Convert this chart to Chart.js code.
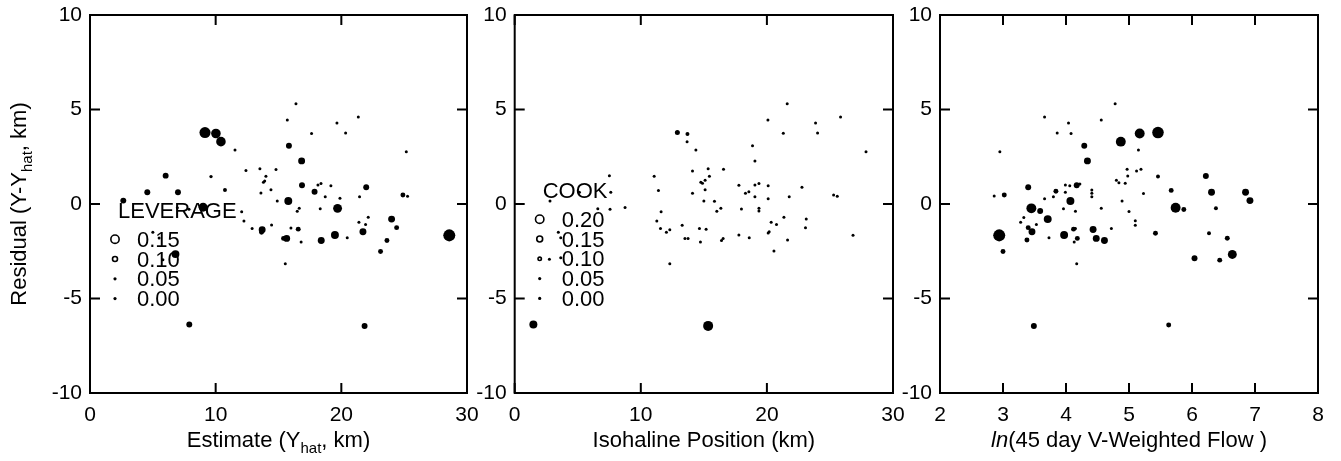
<!DOCTYPE html>
<html>
<head>
<meta charset="utf-8">
<title>Residual diagnostics</title>
<script src="https://cdn.jsdelivr.net/npm/chart.js@4.4.1/dist/chart.umd.min.js"></script>
<style>
  body { margin: 0; background: #fff; }
  #wrap { position: relative; width: 1341px; height: 461px; }
  canvas { position: absolute; top: 0; }
</style>
</head>
<body>
<div id="wrap">
  <canvas id="estChart" width="485" height="461" style="left:0px"></canvas>
  <canvas id="isoChart" width="440" height="461" style="left:470px"></canvas>
  <canvas id="flowChart" width="446" height="461" style="left:895px"></canvas>
</div>
<script>
// Panel 1: residual vs estimate, marker size = leverage
const estimate = [2.65, 4.56, 6.02, 7.0, 6.8, 5.8, 5.0, 5.5, 6.95, 7.88, 9.0, 7.9, 9.15, 10.02, 10.42, 11.54, 9.63, 10.74,
  12.41, 13.52, 14.8, 14.0, 13.8, 13.9, 13.6, 14.4, 14.9, 12.07, 12.25, 12.9, 13.7, 13.65, 14.45, 16.39, 15.7, 19.65,
  21.35, 17.63, 20.34, 15.83, 25.17, 16.84, 16.87, 18.14, 18.38, 19.17, 17.87, 21.98, 15.78, 18.72, 19.89, 21.45, 24.9,
  25.27, 16.65, 16.49, 18.32, 19.7, 15.99, 16.57, 15.4, 15.65, 16.8, 18.4, 19.49, 20.47, 21.4, 21.93, 22.14, 21.72,
  24.0, 24.4, 23.63, 23.12, 15.54, 21.85, 28.59];
const residEst = [0.18, 0.62, 1.5, 0.62, -2.65, -2.95, -1.5, -1.8, -0.2, -0.28, -0.17, -6.38, 3.78, 3.73, 3.3, 2.86, 1.45, 0.74,
  1.77, 1.86, 1.82, 1.47, 1.15, 1.22, 0.58, 0.76, 0.16, -0.41, -0.9, -1.29, -1.36, -1.5, -1.11, 5.3, 4.44, 4.28,
  4.6, 3.73, 3.76, 3.08, 2.77, 2.28, 0.99, 1.01, 1.08, 0.97, 0.65, 0.89, 0.16, 0.39, 0.3, 0.39, 0.48,
  0.41, -0.23, -0.39, -0.25, -0.23, -1.27, -1.33, -1.82, -1.82, -2.01, -1.93, -1.64, -1.78, -0.97, -1.08, -0.7, -1.47,
  -0.8, -1.25, -1.93, -2.51, -3.16, -6.45, -1.66];
const leverageEst = [0.09, 0.09, 0.09, 0.09, 0.12, 0.04, 0.04, 0.04, 0.04, 0.04, 0.135, 0.09, 0.168, 0.145, 0.145, 0.04, 0.05, 0.06,
  0.04, 0.04, 0.04, 0.04, 0.04, 0.04, 0.04, 0.04, 0.04, 0.04, 0.04, 0.04, 0.105, 0.075, 0.04, 0.04, 0.04, 0.04,
  0.04, 0.04, 0.04, 0.09, 0.04, 0.105, 0.09, 0.04, 0.04, 0.04, 0.09, 0.09, 0.12, 0.04, 0.04, 0.04, 0.075,
  0.04, 0.04, 0.04, 0.04, 0.135, 0.04, 0.075, 0.075, 0.105, 0.04, 0.105, 0.12, 0.04, 0.04, 0.04, 0.04, 0.105,
  0.105, 0.075, 0.075, 0.075, 0.04, 0.09, 0.182];

// Panel 2: residual vs isohaline position, marker size = Cook's distance
const isohaline = [12.9, 13.7, 13.67, 14.37, 14.1, 7.51, 11.06, 11.4, 7.62, 14.76, 14.89, 14.1, 15.0, 7.56, 8.75, 6.59, 5.13,
  2.8, 11.61, 11.27, 11.56, 12.03, 12.3, 13.28, 13.5, 13.75, 14.65, 14.73, 12.3, 3.46, 3.65, 2.75, 3.65, 21.61, 20.08,
  23.86, 25.84, 21.3, 24.02, 18.86, 27.86, 19.05, 15.34, 16.56, 15.44, 15.1, 15.1, 15.84, 16.03, 16.35, 17.78, 18.3,
  18.57, 19.05, 19.37, 20.1, 19.05, 20.1, 17.98, 19.37, 19.37, 21.77, 22.78, 25.29, 25.58, 20.34, 20.76, 21.35, 23.12,
  23.06, 20.1, 20.18, 21.64, 20.56, 17.78, 18.6, 16.4, 16.53, 15.18, 26.83, 15.34, 1.48];
const residIso = [3.78, 3.71, 3.3, 2.86, 1.75, 1.5, 1.47, 0.72, 0.62, 1.15, 1.1, 0.57, 0.16, -0.28, -0.19, -0.25, 0.62,
  0.16, -0.41, -0.9, -1.29, -1.5, -1.36, -1.13, -1.82, -1.82, -1.29, -2.01, -3.16, -1.5, -1.79, -2.92, -2.85, 5.3, 4.44,
  4.28, 4.6, 3.75, 3.76, 3.08, 2.77, 2.28, 1.86, 1.84, 1.47, 1.26, 0.76, 0.14, -0.39, -0.23, 0.99, 0.57,
  0.65, 1.01, 1.08, 0.97, 0.39, 0.28, -0.27, -0.23, -0.37, 0.39, 0.89, 0.48, 0.41, -0.97, -1.08, -0.7, -0.8,
  -1.25, -1.54, -1.47, -1.91, -2.49, -1.64, -1.78, -1.93, -1.82, -1.33, -1.66, -6.45, -6.38];
const cookIso = [0.1, 0.08, 0.05, 0.04, 0.04, 0.04, 0.03, 0.03, 0.03, 0.03, 0.03, 0.03, 0.03, 0.03, 0.03, 0.03, 0.03,
  0.03, 0.03, 0.03, 0.03, 0.03, 0.03, 0.03, 0.03, 0.03, 0.03, 0.03, 0.04, 0.03, 0.03, 0.03, 0.03, 0.04, 0.04,
  0.04, 0.04, 0.04, 0.04, 0.04, 0.04, 0.04, 0.03, 0.03, 0.03, 0.03, 0.03, 0.03, 0.03, 0.03, 0.03, 0.03,
  0.03, 0.03, 0.03, 0.03, 0.03, 0.03, 0.03, 0.03, 0.03, 0.03, 0.03, 0.03, 0.03, 0.03, 0.03, 0.03, 0.03,
  0.03, 0.03, 0.03, 0.03, 0.03, 0.03, 0.03, 0.03, 0.03, 0.03, 0.04, 0.2, 0.16];

// Panel 3: residual vs ln(flow), marker size = leverage
const lnFlow = [4.78, 3.66, 4.04, 4.56, 3.86, 4.08, 4.87, 4.29, 2.95, 4.34, 4.97, 4.98, 4.8, 4.84, 4.94, 3.4, 3.99, 4.06,
  4.17, 4.22, 4.41, 4.41, 4.41, 3.84, 3.99, 3.8, 3.66, 3.02, 2.86, 4.07, 4.89, 5.0, 3.45, 3.59, 3.96, 4.15, 4.56,
  3.71, 3.33, 3.28, 3.53, 3.4, 3.46, 4.12, 4.15, 4.43, 4.72, 2.94, 3.38, 3.73, 3.97, 4.13, 4.18, 4.48, 4.61,
  3.0, 4.17, 3.49, 5.17, 5.46, 5.15, 5.12, 5.19, 5.46, 5.23, 5.67, 6.22, 6.31, 6.85, 6.92, 5.74, 5.87, 6.38,
  5.1, 5.1, 5.42, 6.27, 6.56, 6.04, 6.44, 6.64, 5.63];
const residFlow = [5.3, 4.6, 4.28, 4.44, 3.76, 3.73, 3.3, 3.08, 2.77, 2.28, 1.84, 1.48, 1.26, 1.13, 1.1, 0.89, 1.01, 0.97,
  0.99, 1.06, 0.74, 0.57, 0.39, 0.67, 0.62, 0.39, 0.28, 0.48, 0.42, 0.16, 0.16, -0.4, -0.23, -0.37, -0.25, -0.39, -0.23,
  -0.8, -0.71, -0.97, -1.08, -1.25, -1.47, -1.33, -1.29, -1.35, -1.29, -1.66, -1.91, -1.78, -1.64, -2.01, -1.82, -1.82, -1.93,
  -2.51, -3.16, -6.45, 3.73, 3.78, 2.86, 1.75, 1.84, 1.45, 0.56, 0.72, 1.48, 0.62, 0.62, 0.18, -0.2, -0.29, -0.23,
  -0.89, -1.13, -1.55, -1.55, -1.81, -2.87, -2.97, -2.67, -6.4];
const leverageFlow = [0.04, 0.04, 0.04, 0.04, 0.04, 0.04, 0.15, 0.09, 0.04, 0.105, 0.04, 0.04, 0.04, 0.04, 0.04, 0.09, 0.04, 0.04,
  0.09, 0.04, 0.04, 0.04, 0.04, 0.075, 0.04, 0.04, 0.04, 0.075, 0.04, 0.12, 0.04, 0.04, 0.15, 0.09, 0.04, 0.04, 0.04,
  0.12, 0.04, 0.04, 0.04, 0.075, 0.105, 0.075, 0.04, 0.105, 0.04, 0.182, 0.075, 0.04, 0.12, 0.04, 0.075, 0.105, 0.105,
  0.075, 0.04, 0.09, 0.15, 0.175, 0.04, 0.04, 0.04, 0.06, 0.04, 0.075, 0.09, 0.105, 0.105, 0.105, 0.15, 0.075, 0.06,
  0.04, 0.04, 0.075, 0.06, 0.075, 0.09, 0.075, 0.135, 0.075];

// legend keys
const leverageKeys = [0.15, 0.10, 0.05, 0.00];
const cookKeys = [0.20, 0.15, 0.10, 0.05, 0.00];

const FONT = "'Liberation Sans', Arial, Helvetica, sans-serif";
Chart.defaults.font.family = FONT;
Chart.defaults.color = "#000";

function leverageRadius(v) {
  return Math.max(1.5, v * 33);
}

function cookRadius(v) {
  return Math.max(1.5, v * 25);
}

function pieceFont(p) {
  if (p.sub) return "15px " + FONT;
  if (p.italic) return "italic 22px " + FONT;
  return "22px " + FONT;
}

// draw a centred title made of pieces (plain / italic / subscript)
function drawPieces(ctx, pieces, x, y) {
  const widths = pieces.map((p) => {
    ctx.font = pieceFont(p);
    return ctx.measureText(p.text).width;
  });
  let cx = x - widths.reduce((a, b) => a + b, 0) / 2;
  pieces.forEach((p, i) => {
    ctx.font = pieceFont(p);
    ctx.fillText(p.text, cx, y + (p.sub ? 6 : 0));
    cx += widths[i];
  });
}

// frame, inward ticks, axis titles and size legend
function makeDecor(cfg) {
  return {
    id: "decor",
    afterDraw(chart) {
      const { ctx, chartArea: area } = chart;
      const xs = chart.scales.x;
      const ys = chart.scales.y;
      ctx.save();
      ctx.strokeStyle = "#000";
      ctx.fillStyle = "#000";
      ctx.lineWidth = 2;
      ctx.strokeRect(area.left, area.top, area.width, area.height);
      ctx.beginPath();
      xs.ticks.forEach((t) => {
        const px = xs.getPixelForValue(t.value);
        ctx.moveTo(px, area.bottom);
        ctx.lineTo(px, area.bottom - 10);
        ctx.moveTo(px, area.top);
        ctx.lineTo(px, area.top + 10);
      });
      ys.ticks.forEach((t) => {
        const py = ys.getPixelForValue(t.value);
        ctx.moveTo(area.left, py);
        ctx.lineTo(area.left + 10, py);
        ctx.moveTo(area.right, py);
        ctx.lineTo(area.right - 10, py);
      });
      ctx.stroke();

      ctx.textAlign = "left";
      ctx.textBaseline = "alphabetic";
      drawPieces(ctx, cfg.xTitle, (area.left + area.right) / 2, 447);

      if (cfg.yTitle) {
        ctx.save();
        ctx.translate(26, (area.top + area.bottom) / 2);
        ctx.rotate(-Math.PI / 2);
        drawPieces(ctx, cfg.yTitle, 0, 0);
        ctx.restore();
      }

      if (cfg.legendTitle) {
        const lx = area.left;
        ctx.font = "22px " + FONT;
        ctx.fillText(cfg.legendTitle, lx + 28, cfg.legendTop);
        cfg.legendKeys.forEach((k, i) => {
          const base = cfg.legendTop + 28.4 + i * 19.8;
          ctx.font = "22px " + FONT;
          ctx.fillText(k.toFixed(2), lx + 47, base);
          const r = cfg.radius(k);
          ctx.beginPath();
          if (r < 2) {
            ctx.arc(lx + 25, base - 7.5, 1.6, 0, Math.PI * 2);
            ctx.fill();
          } else {
            ctx.lineWidth = 1.6;
            ctx.arc(lx + 25, base - 7.5, r - 0.8, 0, Math.PI * 2);
            ctx.stroke();
          }
        });
      }
      ctx.restore();
    },
  };
}

function makePanel(id, xVals, yVals, sizes, radiusFn, xRange, yAxisWidth, padRight, decor) {
  const radii = sizes.map(radiusFn);
  return new Chart(document.getElementById(id), {
    type: "scatter",
    data: {
      datasets: [
        {
          data: xVals.map((x, i) => ({ x: x, y: yVals[i] })),
          pointRadius: radii,
          pointHoverRadius: radii,
          pointBackgroundColor: "#000",
          pointBorderWidth: 0,
        },
      ],
    },
    options: {
      responsive: false,
      animation: false,
      devicePixelRatio: 1,
      events: [],
      layout: { padding: { top: 15, right: padRight, left: 0, bottom: 0 } },
      plugins: { legend: { display: false }, tooltip: { enabled: false } },
      scales: {
        x: {
          type: "linear",
          min: xRange[0],
          max: xRange[1],
          ticks: { stepSize: xRange[2], padding: 10, font: { size: 21 }, color: "#000" },
          grid: { display: false, drawTicks: false },
          border: { display: false },
          afterFit(s) {
            s.height = 68;
            s.paddingLeft = 0;
            s.paddingRight = 0;
          },
        },
        y: {
          type: "linear",
          min: -10,
          max: 10,
          ticks: { stepSize: 5, padding: 8, font: { size: 21 }, color: "#000" },
          grid: { display: false, drawTicks: false },
          border: { display: false },
          afterFit(s) {
            s.width = yAxisWidth;
            s.paddingTop = 0;
            s.paddingBottom = 0;
          },
        },
      },
    },
    plugins: [decor],
  });
}

makePanel("estChart", estimate, residEst, leverageEst, leverageRadius, [0, 30, 10], 90, 18,
  makeDecor({
    xTitle: [{ text: "Estimate (Y" }, { text: "hat", sub: true }, { text: ", km)" }],
    yTitle: [{ text: "Residual (Y-Y" }, { text: "hat", sub: true }, { text: ", km)" }],
    legendTitle: "LEVERAGE",
    legendTop: 218.3,
    legendKeys: leverageKeys,
    radius: leverageRadius,
  }));

makePanel("isoChart", isohaline, residIso, cookIso, cookRadius, [0, 30, 10], 44.7, 17,
  makeDecor({
    xTitle: [{ text: "Isohaline Position (km)" }],
    legendTitle: "COOK",
    legendTop: 198.3,
    legendKeys: cookKeys,
    radius: cookRadius,
  }));

makePanel("flowChart", lnFlow, residFlow, leverageFlow, leverageRadius, [2, 8, 1], 45, 23,
  makeDecor({
    xTitle: [{ text: "ln", italic: true }, { text: "(45 day V-Weighted Flow )" }],
  }));
</script>
</body>
</html>
